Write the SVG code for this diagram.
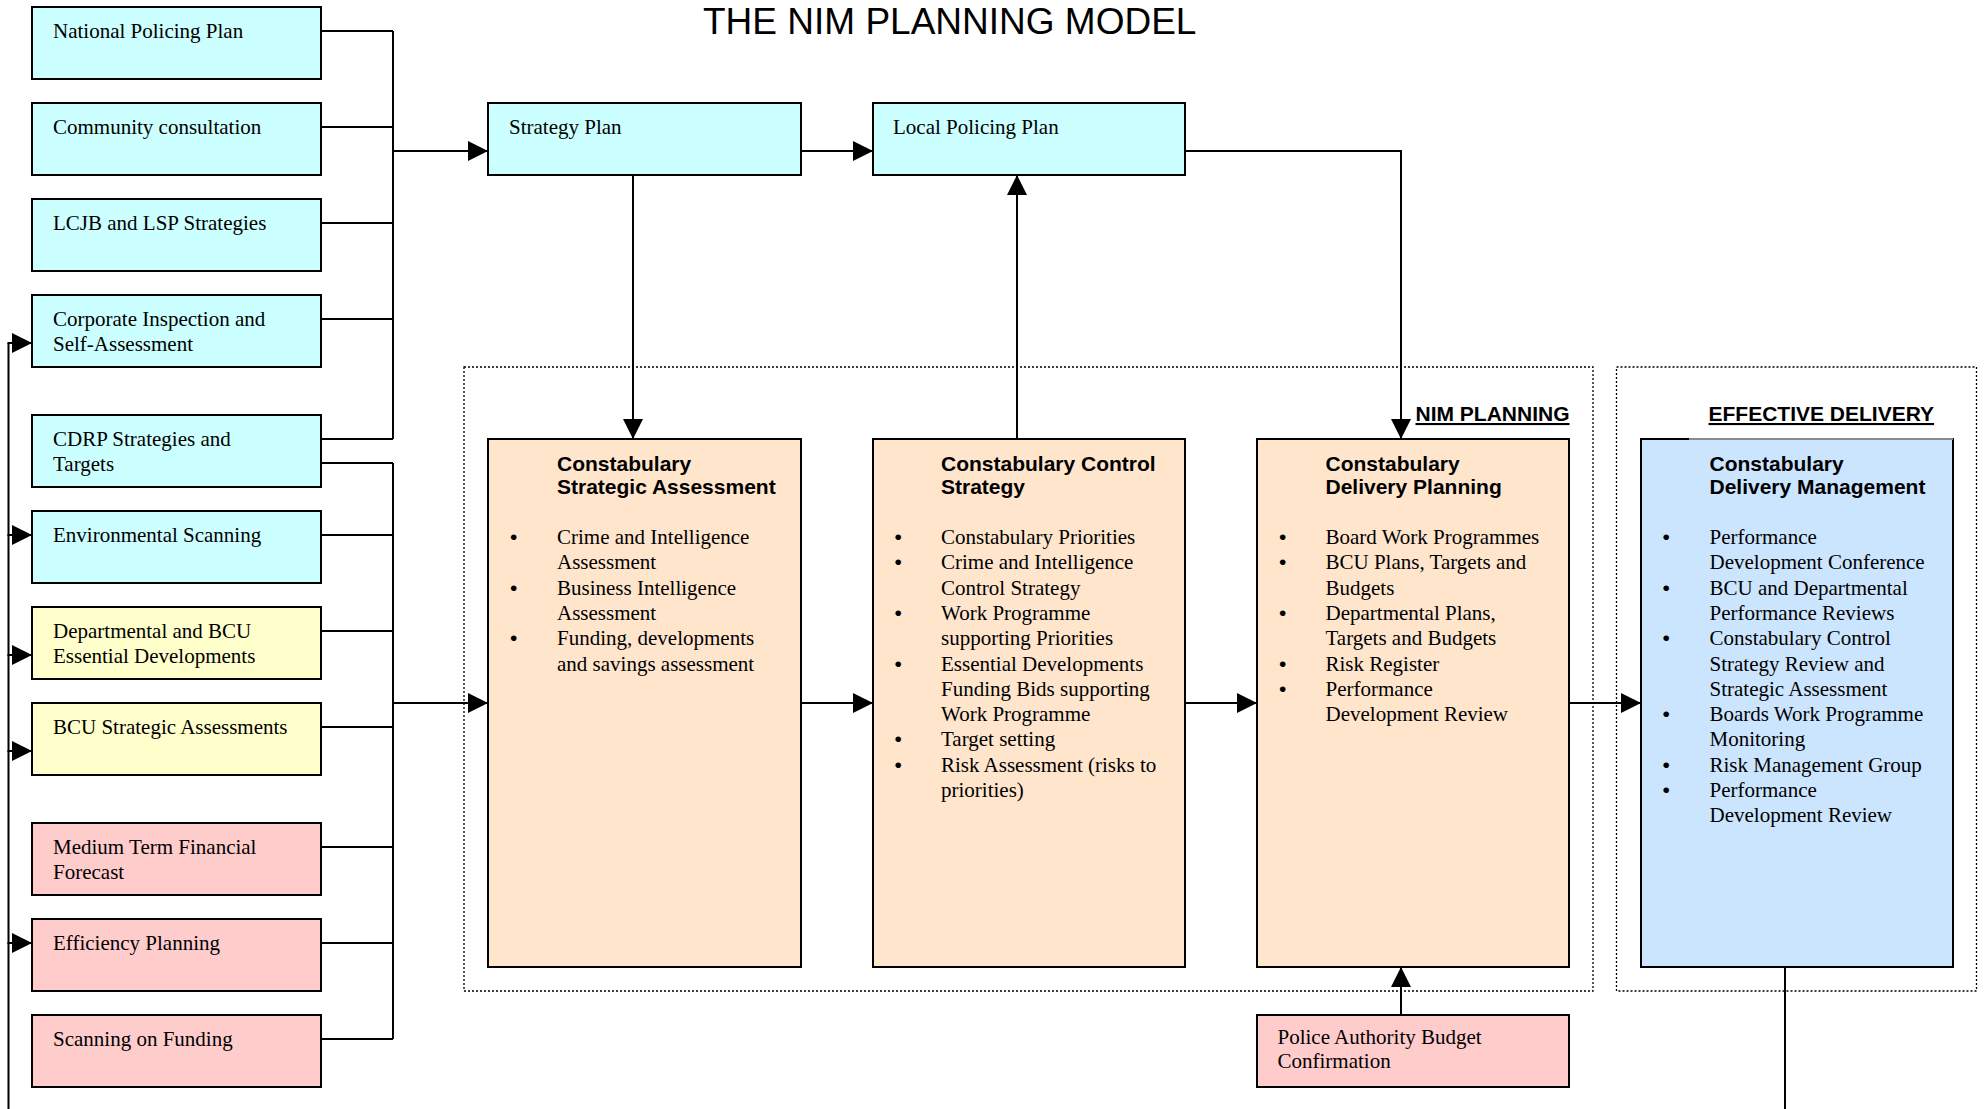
<svg xmlns="http://www.w3.org/2000/svg" width="1984" height="1109" viewBox="0 0 1984 1109">
<defs>
<marker id="ah" markerUnits="userSpaceOnUse" markerWidth="20" markerHeight="20" refX="20" refY="10" orient="auto">
<path d="M0,0 L20,10 L0,20 z" fill="#000"/>
</marker>
<style>
.box{stroke:#000;stroke-width:2}
.cyan{fill:#CCFFFF}
.yellow{fill:#FFFFCC}
.pink{fill:#FFCCCC}
.peach{fill:#FFE5CC}
.blue{fill:#CCE5FF}
.t{font-family:"Liberation Serif","Times New Roman",serif;font-size:21px;fill:#000}
.b{font-family:"Liberation Sans",Arial,sans-serif;font-size:21px;fill:#000}
.h{font-family:"Liberation Sans",Arial,sans-serif;font-weight:bold;font-size:21px;fill:#000}
.conn{stroke:#000;stroke-width:2;fill:none}
.arr{stroke:#000;stroke-width:2;fill:none;marker-end:url(#ah)}
.dot{stroke:#000;stroke-width:1.3;stroke-dasharray:2 2;fill:none}
</style>
</defs>
<rect width="1984" height="1109" fill="#fff"/>
<text x="703" y="34" font-family="Liberation Sans, Arial, sans-serif" font-size="37">THE NIM PLANNING MODEL</text>

<g id="containers">
<rect class="dot" x="464" y="367" width="1129" height="624"/>
<rect class="dot" x="1616.5" y="367" width="360" height="624"/>
<text class="h" x="1569.5" y="421" text-anchor="end" text-decoration="underline">NIM PLANNING</text>
<text class="h" x="1708.5" y="421" text-decoration="underline">EFFECTIVE DELIVERY</text>
</g>

<g id="connectors">
<path class="conn" d="M321,31 H393 M321,127 H393 M321,223 H393 M321,319 H393 M321,439 H393 M393,31 V439"/>
<path class="arr" d="M393,151 H488"/>
<path class="conn" d="M321,463 H393 M321,535 H393 M321,631 H393 M321,727 H393 M321,847 H393 M321,943 H393 M321,1039 H393 M393,463 V1039"/>
<path class="arr" d="M393,703 H488"/>
<path class="arr" d="M801,151 H873"/>
<path class="arr" d="M633,175 V439"/>
<path class="arr" d="M1017,439 V175"/>
<path class="arr" d="M1185,151 H1401 V439"/>
<path class="arr" d="M801,703 H873"/>
<path class="arr" d="M1185,703 H1257"/>
<path class="arr" d="M1569,703 H1641"/>
<path class="arr" d="M1401,1015 V967"/>
<path class="conn" d="M1785,967 V1109"/>
<path class="conn" d="M8.5,1109 V343"/>
<path class="arr" d="M7.5,343 H32"/>
<path class="arr" d="M7.5,535 H32"/>
<path class="arr" d="M7.5,655 H32"/>
<path class="arr" d="M7.5,751 H32"/>
<path class="arr" d="M7.5,943 H32"/>
</g>

<g id="n-national"><rect class="box cyan" x="32" y="7" width="289" height="72"/><text class="t" x="53" y="38">National Policing Plan</text></g>
<g id="n-community"><rect class="box cyan" x="32" y="103" width="289" height="72"/><text class="t" x="53" y="134">Community consultation</text></g>
<g id="n-lcjb"><rect class="box cyan" x="32" y="199" width="289" height="72"/><text class="t" x="53" y="230">LCJB and LSP Strategies</text></g>
<g id="n-corporate"><rect class="box cyan" x="32" y="295" width="289" height="72"/><text class="t" x="53" y="326">Corporate Inspection and<tspan x="53" dy="25">Self-Assessment</tspan></text></g>
<g id="n-cdrp"><rect class="box cyan" x="32" y="415" width="289" height="72"/><text class="t" x="53" y="446">CDRP Strategies and<tspan x="53" dy="25">Targets</tspan></text></g>
<g id="n-env"><rect class="box cyan" x="32" y="511" width="289" height="72"/><text class="t" x="53" y="542">Environmental Scanning</text></g>
<g id="n-dept"><rect class="box yellow" x="32" y="607" width="289" height="72"/><text class="t" x="53" y="638">Departmental and BCU<tspan x="53" dy="25">Essential Developments</tspan></text></g>
<g id="n-bcu"><rect class="box yellow" x="32" y="703" width="289" height="72"/><text class="t" x="53" y="734">BCU Strategic Assessments</text></g>
<g id="n-mtff"><rect class="box pink" x="32" y="823" width="289" height="72"/><text class="t" x="53" y="854">Medium Term Financial<tspan x="53" dy="25">Forecast</tspan></text></g>
<g id="n-efficiency"><rect class="box pink" x="32" y="919" width="289" height="72"/><text class="t" x="53" y="950">Efficiency Planning</text></g>
<g id="n-funding"><rect class="box pink" x="32" y="1015" width="289" height="72"/><text class="t" x="53" y="1046">Scanning on Funding</text></g>

<g id="n-strategy"><rect class="box cyan" x="488" y="103" width="313" height="72"/><text class="t" x="509" y="134">Strategy Plan</text></g>
<g id="n-local"><rect class="box cyan" x="873" y="103" width="312" height="72"/><text class="t" x="893" y="134">Local Policing Plan</text></g>

<g id="n-csa"><rect class="box peach" x="488" y="439" width="313" height="528"/>
<text class="h" x="557" y="471">Constabulary<tspan x="557" dy="23">Strategic Assessment</tspan></text>
<text class="b" x="510" y="544">•<tspan x="510" dy="50.6">•</tspan><tspan x="510" dy="50.6">•</tspan></text>
<text class="t" x="557" y="544">Crime and Intelligence<tspan x="557" dy="25.3">Assessment</tspan><tspan x="557" dy="25.3">Business Intelligence</tspan><tspan x="557" dy="25.3">Assessment</tspan><tspan x="557" dy="25.3">Funding, developments</tspan><tspan x="557" dy="25.3">and savings assessment</tspan></text>
</g>

<g id="n-ccs"><rect class="box peach" x="873" y="439" width="312" height="528"/>
<text class="h" x="941" y="471">Constabulary Control<tspan x="941" dy="23">Strategy</tspan></text>
<text class="b" x="894.5" y="544">•<tspan x="894.5" dy="25.3">•</tspan><tspan x="894.5" dy="50.6">•</tspan><tspan x="894.5" dy="50.6">•</tspan><tspan x="894.5" dy="75.9">•</tspan><tspan x="894.5" dy="25.3">•</tspan></text>
<text class="t" x="941" y="544">Constabulary Priorities<tspan x="941" dy="25.3">Crime and Intelligence</tspan><tspan x="941" dy="25.3">Control Strategy</tspan><tspan x="941" dy="25.3">Work Programme</tspan><tspan x="941" dy="25.3">supporting Priorities</tspan><tspan x="941" dy="25.3">Essential Developments</tspan><tspan x="941" dy="25.3">Funding Bids supporting</tspan><tspan x="941" dy="25.3">Work Programme</tspan><tspan x="941" dy="25.3">Target setting</tspan><tspan x="941" dy="25.3">Risk Assessment (risks to</tspan><tspan x="941" dy="25.3">priorities)</tspan></text>
</g>

<g id="n-cdp"><rect class="box peach" x="1257" y="439" width="312" height="528"/>
<text class="h" x="1325.5" y="471">Constabulary<tspan x="1325.5" dy="23">Delivery Planning</tspan></text>
<text class="b" x="1279" y="544">•<tspan x="1279" dy="25.3">•</tspan><tspan x="1279" dy="50.6">•</tspan><tspan x="1279" dy="50.6">•</tspan><tspan x="1279" dy="25.3">•</tspan></text>
<text class="t" x="1325.5" y="544">Board Work Programmes<tspan x="1325.5" dy="25.3">BCU Plans, Targets and</tspan><tspan x="1325.5" dy="25.3">Budgets</tspan><tspan x="1325.5" dy="25.3">Departmental Plans,</tspan><tspan x="1325.5" dy="25.3">Targets and Budgets</tspan><tspan x="1325.5" dy="25.3">Risk Register</tspan><tspan x="1325.5" dy="25.3">Performance</tspan><tspan x="1325.5" dy="25.3">Development Review</tspan></text>
</g>

<g id="n-cdm"><rect class="box blue" x="1641" y="439" width="312" height="528"/>
<line x1="1689" y1="439" x2="1953" y2="439" stroke="#8a8a8a" stroke-width="2"/>
<text class="h" x="1709.5" y="471">Constabulary<tspan x="1709.5" dy="23">Delivery Management</tspan></text>
<text class="b" x="1662.5" y="544">•<tspan x="1662.5" dy="50.6">•</tspan><tspan x="1662.5" dy="50.6">•</tspan><tspan x="1662.5" dy="75.9">•</tspan><tspan x="1662.5" dy="50.6">•</tspan><tspan x="1662.5" dy="25.3">•</tspan></text>
<text class="t" x="1709.5" y="544">Performance<tspan x="1709.5" dy="25.3">Development Conference</tspan><tspan x="1709.5" dy="25.3">BCU and Departmental</tspan><tspan x="1709.5" dy="25.3">Performance Reviews</tspan><tspan x="1709.5" dy="25.3">Constabulary Control</tspan><tspan x="1709.5" dy="25.3">Strategy Review and</tspan><tspan x="1709.5" dy="25.3">Strategic Assessment</tspan><tspan x="1709.5" dy="25.3">Boards Work Programme</tspan><tspan x="1709.5" dy="25.3">Monitoring</tspan><tspan x="1709.5" dy="25.3">Risk Management Group</tspan><tspan x="1709.5" dy="25.3">Performance</tspan><tspan x="1709.5" dy="25.3">Development Review</tspan></text>
</g>

<g id="n-pa"><rect class="box pink" x="1257" y="1015" width="312" height="72"/><text class="t" x="1277.5" y="1044">Police Authority Budget<tspan x="1277.5" dy="24">Confirmation</tspan></text></g>
</svg>
